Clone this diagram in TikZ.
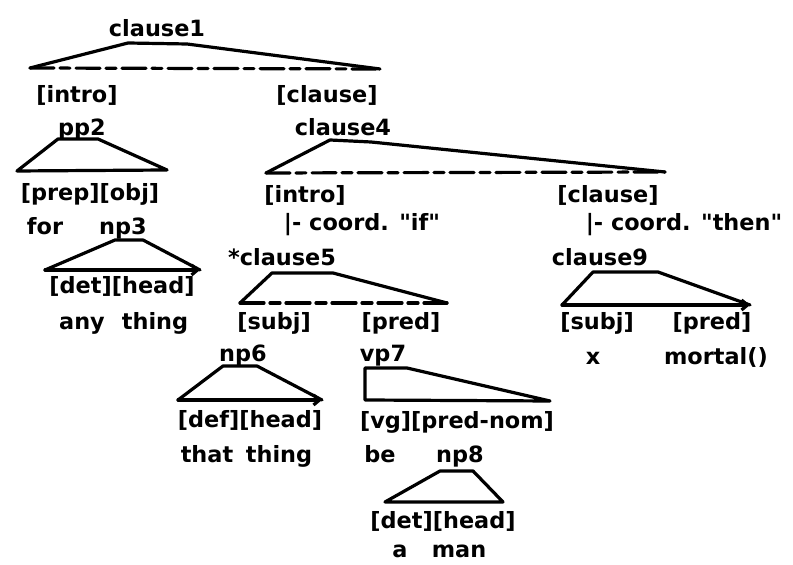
\documentclass[tikz,border=0pt]{standalone}
\usepackage{fontspec}
\newfontfamily\treefont{DejaVu Sans}
\usetikzlibrary{arrows.meta}
\tikzset{
  lbl/.style={font=\treefont\bfseries\fontsize{11.2}{12}\selectfont, inner sep=0pt, text height=8.5pt, text depth=1.5pt},
  leg/.style={line width=1.6pt, line join=round, line cap=round},
  gap/.style={leg, dash pattern=on 12pt off 3pt on 5pt off 3pt},
  tip/.style={leg, -{Straight Barb[length=3pt,width=5pt]}}
}
\begin{document}
\begin{tikzpicture}[x=0.5pt,y=-0.5pt]
  \useasboundingbox (0,0) rectangle (793,565);

  % labels
  \node (clause1) [lbl] at (157,30) {clause1};
  \node (intro1) [lbl] at (77,96) {[intro]};
  \node (clauseA) [lbl] at (327,96) {[clause]};
  \node (pp2) [lbl] at (82,129) {pp2};
  \node (clause4) [lbl] at (343,129) {clause4};
  \node (prepobj) [lbl] at (90,194) {[prep][obj]};
  \node (for) [lbl] at (45,228) {for};
  \node (np3) [lbl] at (123,228) {np3};
  \node (intro2) [lbl] at (305,196) {[intro]};
  \node (coordif) [lbl] at (362,224) {|- coord. "if"};
  \node (clauseB) [lbl] at (608,196) {[clause]};
  \node (coordthen) [lbl] at (684,224) {|- coord. "then"};
  \node (clause5) [lbl] at (282,259) {*clause5};
  \node (clause9) [lbl] at (600,259) {clause9};
  \node (dethead3) [lbl] at (122,287) {[det][head]};
  \node (any) [lbl] at (82,323) {any};
  \node (thing3) [lbl] at (155,323) {thing};
  \node (subj5) [lbl] at (274,323) {[subj]};
  \node (pred5) [lbl] at (401,323) {[pred]};
  \node (subj9) [lbl] at (597,323) {[subj]};
  \node (pred9) [lbl] at (712,323) {[pred]};
  \node (x) [lbl] at (593,358) {x};
  \node (mortal) [lbl] at (716,358) {mortal()};
  \node (np6) [lbl] at (243,355) {np6};
  \node (vp7) [lbl] at (383,355) {vp7};
  \node (defhead) [lbl] at (250,421) {[def][head]};
  \node (vgprednom) [lbl] at (457,422) {[vg][pred-nom]};
  \node (that) [lbl] at (207,456) {that};
  \node (thing6) [lbl] at (279,456) {thing};
  \node (be) [lbl] at (380,456) {be};
  \node (np8) [lbl] at (460,456) {np8};
  \node (dethead8) [lbl] at (443,522) {[det][head]};
  \node (a) [lbl] at (400,551) {a};
  \node (man) [lbl] at (459,551) {man};

  % corners of the spans
  \coordinate (c1l) at (30,68);   \coordinate (c1a) at (128,43);  \coordinate (c1b) at (187,44);  \coordinate (c1r) at (380,69);
  \coordinate (pp2l) at (17,171); \coordinate (pp2a) at (58,139); \coordinate (pp2b) at (98,139); \coordinate (pp2r) at (167,170);
  \coordinate (np3l) at (45,270); \coordinate (np3a) at (115,240); \coordinate (np3b) at (143,240); \coordinate (np3r) at (200,270);
  \coordinate (c4l) at (266,173); \coordinate (c4a) at (330,140); \coordinate (c4b) at (371,142); \coordinate (c4r) at (665,172);
  \coordinate (c5l) at (240,303); \coordinate (c5a) at (272,273); \coordinate (c5b) at (333,273); \coordinate (c5r) at (447,303);
  \coordinate (np6l) at (178,400); \coordinate (np6a) at (223,366); \coordinate (np6b) at (257,366); \coordinate (np6r) at (322,400);
  \coordinate (vp7l) at (365,400); \coordinate (vp7a) at (365,368); \coordinate (vp7b) at (407,368); \coordinate (vp7r) at (550,401);
  \coordinate (np8l) at (385,502); \coordinate (np8a) at (440,471); \coordinate (np8b) at (473,471); \coordinate (np8r) at (503,502);
  \coordinate (c9l) at (562,305); \coordinate (c9a) at (593,272); \coordinate (c9b) at (658,272); \coordinate (c9r) at (750,305);

  \draw [leg] (c1l) -- (c1a) -- (c1b) -- (c1r);
  \draw [gap] (c1l) -- (c1r);
  \draw [leg] (pp2l) -- (pp2a) -- (pp2b) -- (pp2r) -- cycle;
  \draw [leg] (np3l) -- (np3a) -- (np3b) -- (np3r);
  \draw [tip] (np3l) -- (np3r);
  \draw [leg] (c4l) -- (c4a) -- (c4b) -- (c4r);
  \draw [gap] (c4l) -- (c4r);
  \draw [leg] (c5l) -- (c5a) -- (c5b) -- (c5r);
  \draw [gap] (c5l) -- (c5r);
  \draw [leg] (np6l) -- (np6a) -- (np6b) -- (np6r);
  \draw [tip] (np6l) -- (np6r);
  \draw [leg] (vp7l) -- (vp7a) -- (vp7b) -- (vp7r) -- cycle;
  \draw [leg] (np8l) -- (np8a) -- (np8b) -- (np8r) -- cycle;
  \draw [leg] (c9l) -- (c9a) -- (c9b) -- (c9r);
  \draw [tip] (c9l) -- (c9r);
\end{tikzpicture}
\end{document}
